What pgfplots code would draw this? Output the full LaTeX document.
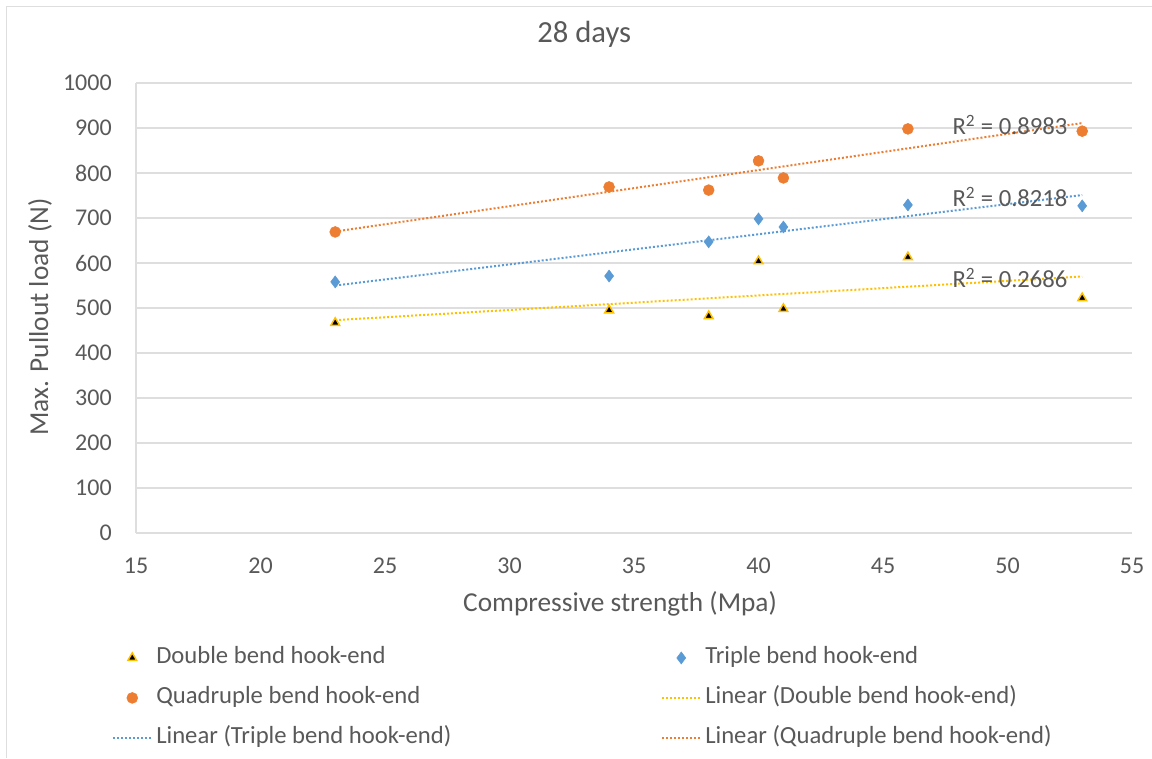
\documentclass[border=0pt]{standalone}
\usepackage{fontspec}
\setmainfont{Carlito}
\usepackage{pgfplots}
\pgfplotsset{compat=1.18}
\definecolor{txt}{HTML}{595959}
\definecolor{gridc}{HTML}{DEDEDE}
\definecolor{cyel}{HTML}{FFC000}
\definecolor{cblue}{HTML}{5B9BD5}
\definecolor{corange}{HTML}{ED7D31}
\begin{document}
\begin{tikzpicture}
\path[use as bounding box] (0,0) rectangle (864pt,568.5pt);
\draw[gridc, line width=0.75pt] (4.5pt,0) -- (4.5pt,563.25pt) -- (864pt,563.25pt);
\begin{axis}[
  at={(102pt,168.75pt)}, anchor=south west,
  scale only axis, width=747pt, height=337.5pt,
  xmin=15, xmax=55, ymin=0, ymax=1000,
  xtick={15,20,...,55}, ytick={0,100,...,1000},
  ymajorgrids, grid style={gridc, line width=0.8pt},
  axis x line*=bottom, axis y line*=left,
  axis line style={gridc, line width=0.8pt, -},
  major tick length=0pt,
  /pgf/number format/assume math mode=true,
  /pgf/number format/1000 sep={},
  tick label style={font=\fontsize{18}{21}\selectfont, text=txt, inner sep=0pt},
  yticklabel style={anchor=east, xshift=-18pt},
  xticklabel style={anchor=north, yshift=-18.75pt},
  xlabel={Compressive strength (Mpa)},
  ylabel={Max. Pullout load (N)},
  title={28 days},
  label style={font=\fontsize{20.5}{24}\selectfont, text=txt},
  xlabel style={at={(0.486,-0.158)}, anchor=center},
  ylabel style={at={(-0.0964,0.48)}, anchor=center, rotate=0},
  title style={at={(0.45,1.091)}, anchor=center, font=\fontsize{23}{27}\selectfont, text=txt},
  legend columns=2,
  legend image code/.code={\draw[#1, mark repeat=2, mark phase=2] plot coordinates {(0pt,0pt) (14.25pt,0pt) (28.5pt,0pt)};},
  legend style={at={(-0.0281,-0.2444)}, anchor=north west, draw=none, fill=none,
    font=\fontsize{18.5}{22}\selectfont, text=txt,
    nodes={inner sep=0pt, text height=13.5pt, text depth=4.5pt},
    row sep=12pt,
    /tikz/column 1/.style={column sep=3pt},
    /tikz/column 2/.style={column sep=0pt},
    /tikz/column 3/.style={column sep=3pt}},
  legend cell align=left,
  clip=false,
]
\addplot[only marks, mark=triangle*, mark size=3.8pt, mark options={fill=black, draw=cyel, line width=1.1pt}]
  coordinates {(23,467) (34,495) (38,482) (40,604) (41,498) (46,613) (53,522)};
\addlegendentry{\makebox[378.75pt][l]{Double bend hook-end}}
\addplot[only marks, mark=diamond*, mark size=4.5pt, mark options={fill=cblue, draw=cblue}]
  coordinates {(23,558) (34,571) (38,647) (40,698) (41,680) (46,729) (53,727)};
\addlegendentry{Triple bend hook-end}
\addplot[only marks, mark=*, mark size=4.1pt, mark options={fill=corange, draw=corange}]
  coordinates {(23,669) (34,769) (38,762) (40,827) (41,789) (46,898) (53,893)};
\addlegendentry{\makebox[378.75pt][l]{Quadruple bend hook-end}}
\addplot[cyel, line width=1.5pt, dash pattern=on 1.5pt off 1.5pt, no marks]
  coordinates {(23,473) (53,570)};
\addlegendentry{Linear (Double bend hook-end)}
\addplot[cblue, line width=1.5pt, dash pattern=on 1.5pt off 1.5pt, no marks]
  coordinates {(23,550) (53,751)};
\addlegendentry{\makebox[378.75pt][l]{Linear (Triple bend hook-end)}}
\addplot[corange, line width=1.5pt, dash pattern=on 1.5pt off 1.5pt, no marks]
  coordinates {(23,670) (53,911)};
\addlegendentry{Linear (Quadruple bend hook-end)}
\node[text=txt, font=\fontsize{18.5}{22}\selectfont, anchor=center] at (axis cs:50.1,907) {R\textsuperscript{2} = 0.8983};
\node[text=txt, font=\fontsize{18.5}{22}\selectfont, anchor=center] at (axis cs:50.1,747) {R\textsuperscript{2} = 0.8218};
\node[text=txt, font=\fontsize{18.5}{22}\selectfont, anchor=center] at (axis cs:50.1,567) {R\textsuperscript{2} = 0.2686};
\end{axis}
\end{tikzpicture}
\end{document}
